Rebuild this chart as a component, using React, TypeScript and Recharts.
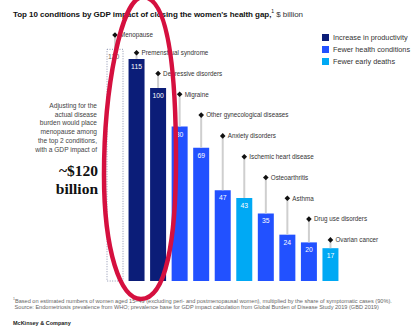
import React from "react";
import { BarChart, Bar, XAxis, YAxis, Cell, LabelList } from "recharts";

const conditions = [
  "Menopause",
  "Premenstrual syndrome",
  "Depressive disorders",
  "Migraine",
  "Other gynecological diseases",
  "Anxiety disorders",
  "Ischemic heart disease",
  "Osteoarthritis",
  "Asthma",
  "Drug use disorders",
  "Ovarian cancer",
];
const gdpImpact = [120, 115, 100, 80, 69, 47, 43, 35, 24, 20, 17];
const driverType = [
  "adjusted",
  "productivity",
  "productivity",
  "health",
  "health",
  "health",
  "deaths",
  "health",
  "health",
  "health",
  "deaths",
];
const legendLabels = ["Increase in productivity", "Fewer health conditions", "Fewer early deaths"];
const legendKeys = ["productivity", "health", "deaths"];

const COLORS: Record<string, string> = {
  productivity: "#0b1d78",
  health: "#2251ff",
  deaths: "#00a9f4",
  adjusted: "#ffffff",
};

const data = conditions.map((name, i) => ({ name, value: gdpImpact[i], type: driverType[i] }));

const FONT = "'Liberation Sans', Arial, Helvetica, sans-serif";

const ValueLabel = (props: any) => {
  const { x, y, width, value, index } = props;
  const cx = x + width / 2;
  const isAdj = driverType[index] === "adjusted";
  return (
    <text
      x={isAdj ? x + 1 : cx}
      y={y + 10}
      textAnchor={isAdj ? "start" : "middle"}
      fontSize={6.8}
      fontFamily={FONT}
      fill={isAdj ? "#666" : "#fff"}
    >
      {value}
    </text>
  );
};

const NameLabel = (props: any) => {
  const { x, y, width, index } = props;
  const cx = x + width / 2;
  const my = index === 0 ? 35 : 52.7 + (index - 1) * 20.8;
  const d = 2.8;
  return (
    <g>
      <line x1={cx} y1={my} x2={cx} y2={y} stroke="#cfcfcf" strokeWidth={2} />
      <polygon
        points={`${cx},${my - d} ${cx + d},${my} ${cx},${my + d} ${cx - d},${my}`}
        fill="#111"
      />
      <text x={cx + 5} y={my + 2.3} fontSize={6.3} fontFamily={FONT} fill="#333">
        {conditions[index]}
      </text>
    </g>
  );
};

export default function App() {
  return (
    <div
      style={{
        position: "absolute",
        left: 0,
        top: 0,
        width: 413,
        height: 330,
        background: "#fff",
        fontFamily: FONT,
        overflow: "hidden",
      }}
    >
      <div
        style={{
          position: "absolute",
          left: 13,
          top: 8,
          fontSize: 8,
          color: "#111",
          whiteSpace: "nowrap",
          letterSpacing: -0.05,
        }}
      >
        <b>Top 10 conditions by GDP impact of closing the women's health gap,</b>
        <sup style={{ fontSize: 5 }}>1</sup>
        <span style={{ color: "#333" }}> $ billion</span>
      </div>

      <div style={{ position: "absolute", left: 322, top: 31 }}>
        {legendLabels.map((l, i) => (
          <div
            key={l}
            style={{ display: "flex", alignItems: "center", height: 12, fontSize: 7.3, color: "#333", whiteSpace: "nowrap" }}
          >
            <span
              style={{
                display: "inline-block",
                width: 7,
                height: 7,
                background: COLORS[legendKeys[i]],
                marginRight: 4,
                flexShrink: 0,
              }}
            />
            {l}
          </div>
        ))}
      </div>

      <div
        style={{
          position: "absolute",
          right: 413 - 97,
          top: 102,
          textAlign: "right",
          fontSize: 6.6,
          lineHeight: "8.7px",
          color: "#444",
          whiteSpace: "nowrap",
        }}
      >
        Adjusting for the
        <br />
        actual disease
        <br />
        burden would place
        <br />
        menopause among
        <br />
        the top 2 conditions,
        <br />
        with a GDP impact of
      </div>
      <div
        style={{
          position: "absolute",
          right: 413 - 98,
          top: 162,
          textAlign: "right",
          fontSize: 15.5,
          lineHeight: "18px",
          fontWeight: "bold",
          fontFamily: "'Liberation Serif', 'DejaVu Serif', serif",
          color: "#111",
          whiteSpace: "nowrap",
        }}
      >
        ~$120
        <br />
        billion
      </div>

      <div style={{ position: "absolute", left: 0, top: 0 }}>
        <BarChart
          width={413}
          height={330}
          data={data}
          margin={{ top: 30, right: 72, bottom: 49, left: 104 }}
          barSize={16}
        >
          <XAxis dataKey="name" hide />
          <YAxis hide domain={[0, 130]} />
          <Bar dataKey="value" isAnimationActive={false}>
            {data.map((d, i) => (
              <Cell
                key={i}
                fill={COLORS[d.type]}
                stroke={d.type === "adjusted" ? "#8d94b0" : "none"}
                strokeDasharray={d.type === "adjusted" ? "1 1.5" : undefined}
                strokeWidth={d.type === "adjusted" ? 1 : 0}
              />
            ))}
            <LabelList dataKey="value" content={NameLabel} />
            <LabelList dataKey="value" content={ValueLabel} />
          </Bar>
        </BarChart>
      </div>

      <div
        style={{
          position: "absolute",
          left: 13,
          top: 296,
          fontSize: 5.6,
          lineHeight: "6px",
          color: "#666",
          whiteSpace: "nowrap",
        }}
      >
        <sup style={{ fontSize: 3.5 }}>1</sup>Based on estimated numbers of women aged 15–49 (excluding peri- and postmenopausal women), multiplied by the share of symptomatic cases (90%).
        <br />
        &nbsp;Source: Endometriosis prevalence from WHO; prevalence base for GDP impact calculation from Global Burden of Disease Study 2019 (GBD 2019)
      </div>
      <div
        style={{
          position: "absolute",
          left: 13,
          top: 320,
          fontSize: 5.5,
          fontWeight: "bold",
          color: "#222",
          whiteSpace: "nowrap",
        }}
      >
        McKinsey &amp; Company
      </div>

      <svg
        width={413}
        height={330}
        style={{ position: "absolute", left: 0, top: 0, pointerEvents: "none" }}
      >
        <path
          d="M 143,-3 C 170,-3 176,80 176,160 C 176,240 166,299 141,299 C 120,299 104,250 104,175 C 104,90 121,-3 143,-3 Z"
          fill="none"
          stroke="#d5103f"
          strokeWidth={4.5}
        />
      </svg>
    </div>
  );
}
